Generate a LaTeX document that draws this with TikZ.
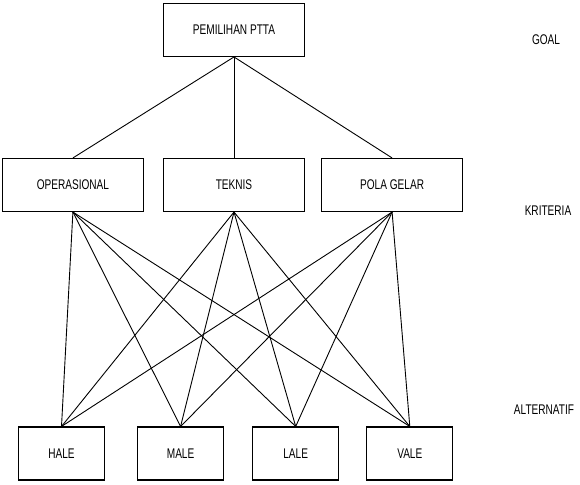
\documentclass[tikz,border=0pt]{standalone}
\usepackage{fontspec}
\setmainfont{Liberation Sans}[FakeStretch=0.72]
\usetikzlibrary{positioning}

\begin{document}
\begin{tikzpicture}[
  x=1pt, y=1pt,
  bigbox/.style={draw, line width=1.1pt, rectangle, minimum width=141pt, minimum height=53pt, align=center, font=\fontsize{14}{16}\selectfont},
  altbox/.style={draw, line width=1.1pt, rectangle, minimum width=86pt, minimum height=53pt, align=center, font=\fontsize{14}{16}\selectfont},
  level/.style={font=\fontsize{14}{16}\selectfont},
  link/.style={draw, line width=0.9pt},
  node distance=20pt
]
\useasboundingbox (0,0) rectangle (580,-484);

% Kriteria row
\node[bigbox] (teknis) at (234,-185) {TEKNIS};
\node[bigbox, left=19pt of teknis] (operasional) {OPERASIONAL};
\node[bigbox, right=16pt of teknis] (polagelar) {POLA GELAR};

% Goal
\node[bigbox, above=101pt of teknis] (goal) {PEMILIHAN PTTA};

% Alternatif row
\node[altbox] (hale) at (61.5,-453.5) {HALE};
\node[altbox, right=32pt of hale] (male) {MALE};
\node[altbox, right=28pt of male] (lale) {LALE};
\node[altbox, right=27pt of lale] (vale) {VALE};

% Level labels
\node[level] (lgoal) at (546,-40) {GOAL};
\node[level] (lkriteria) at (548,-211) {KRITERIA};
\node[level] (lalternatif) at (544,-410) {ALTERNATIF};

% Goal to kriteria
\draw[link] (goal.south) -- (operasional.north);
\draw[link] (goal.south) -- (teknis.north);
\draw[link] (goal.south) -- (polagelar.north);

% Kriteria to alternatif
\draw[link] (operasional.south) -- (hale.north);
\draw[link] (operasional.south) -- (male.north);
\draw[link] (operasional.south) -- (lale.north);
\draw[link] (operasional.south) -- (vale.north);
\draw[link] (teknis.south) -- (hale.north);
\draw[link] (teknis.south) -- (male.north);
\draw[link] (teknis.south) -- (lale.north);
\draw[link] (teknis.south) -- (vale.north);
\draw[link] (polagelar.south) -- (hale.north);
\draw[link] (polagelar.south) -- (male.north);
\draw[link] (polagelar.south) -- (lale.north);
\draw[link] (polagelar.south) -- (vale.north);

\end{tikzpicture}
\end{document}
